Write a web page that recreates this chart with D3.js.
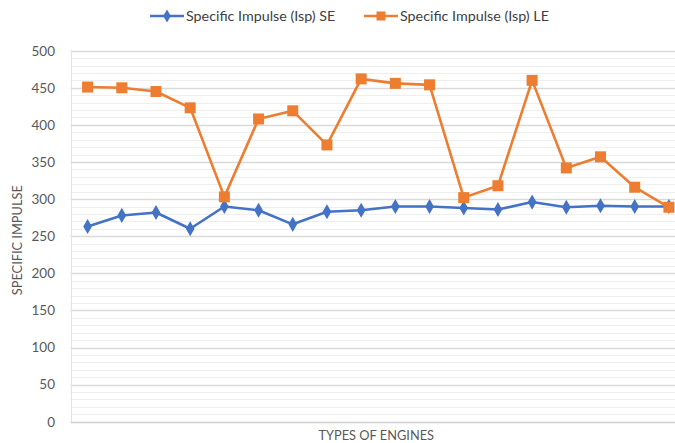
<!DOCTYPE html>
<html>
<head>
<meta charset="utf-8">
<script src="https://cdn.jsdelivr.net/npm/d3@7"></script>
<style>
  html, body { margin: 0; padding: 0; background: #fff; overflow: hidden; }
  svg { display: block; font-family: Lato, "Open Sans", sans-serif; }
</style>
</head>
<body>
<svg id="chart" width="675" height="443"></svg>
<script>
// Engine index (18 engine types, unlabeled on the axis)
const engines = d3.range(1, 19).map(String);

// Specific impulse, seconds
const ispSE = [263, 278, 282, 260, 290, 285, 266, 283, 285, 290, 290, 288, 286, 296, 289, 291, 290, 290];
const ispLE = [451, 450, 445, 423, 303, 408, 419, 373, 462, 456, 454, 302, 318, 460, 342, 357, 316, 289];

const yTicks = [0, 50, 100, 150, 200, 250, 300, 350, 400, 450, 500];
const yMinor = d3.range(0, 501, 10);

const seriesNames = ["Specific Impulse (Isp) SE", "Specific Impulse (Isp) LE"];
const colors = ["#4472C4", "#ED7D31"];

const svg = d3.select("#chart");
const margin = { left: 70.5, top: 50.7, right: 686, bottom: 421.7 };

const x = d3.scaleBand().domain(engines).range([margin.left, margin.right]);
const y = d3.scaleLinear().domain([0, 500]).range([margin.bottom, margin.top]);

// minor gridlines
svg.append("g").selectAll("line").data(yMinor.filter(v => v % 50 !== 0)).join("line")
  .attr("x1", margin.left).attr("x2", margin.right)
  .attr("y1", d => Math.round(y(d)) + 0.5).attr("y2", d => Math.round(y(d)) + 0.5)
  .attr("stroke", "#eeeeee").attr("stroke-width", 1);

// major gridlines
svg.append("g").selectAll("line").data(yTicks.filter(v => v > 0)).join("line")
  .attr("x1", margin.left).attr("x2", margin.right)
  .attr("y1", d => Math.round(y(d)) + 0.5).attr("y2", d => Math.round(y(d)) + 0.5)
  .attr("stroke", "#d9d9d9").attr("stroke-width", 1.3);

// plot frame: left edge and baseline
svg.append("line")
  .attr("x1", Math.round(margin.left) + 0.5).attr("x2", Math.round(margin.left) + 0.5)
  .attr("y1", margin.top).attr("y2", margin.bottom)
  .attr("stroke", "#e3e3e3");
svg.append("line")
  .attr("x1", margin.left).attr("x2", margin.right)
  .attr("y1", Math.round(y(0)) + 0.5).attr("y2", Math.round(y(0)) + 0.5)
  .attr("stroke", "#d0d0d0").attr("stroke-width", 1.5);

// y axis labels
const yAxis = d3.axisLeft(y).tickValues(yTicks).tickSize(0).tickPadding(0);
const gy = svg.append("g").attr("transform", `translate(55,0)`).call(yAxis);
gy.select(".domain").remove();
gy.selectAll("text").attr("fill", "#595959").attr("font-size", 13.5)
  .attr("font-family", "Lato, 'Open Sans', sans-serif");

// axis titles
svg.append("text")
  .attr("x", (margin.left + margin.right) / 2 - 2).attr("y", 440)
  .attr("text-anchor", "middle").attr("fill", "#595959").attr("font-size", 12.8)
  .text("TYPES OF ENGINES");
svg.append("text")
  .attr("transform", `translate(22,${(margin.top + margin.bottom) / 2 + 4}) rotate(-90)`)
  .attr("text-anchor", "middle").attr("fill", "#595959").attr("font-size", 12.8)
  .text("SPECIFIC IMPULSE");

const cx = (d, i) => x(engines[i]) + x.bandwidth() / 2;
const line = d3.line().x((d, i) => cx(d, i)).y(d => y(d));

// SE series: line with diamond markers
svg.append("path").datum(ispSE)
  .attr("d", line).attr("fill", "none")
  .attr("stroke", colors[0]).attr("stroke-width", 2.6).attr("stroke-linejoin", "round");
svg.append("g").selectAll("path").data(ispSE).join("path")
  .attr("d", d3.symbol(d3.symbolDiamond, 66))
  .attr("transform", (d, i) => `translate(${cx(d, i)},${y(d)})`)
  .attr("fill", colors[0]);

// LE series: line with square markers
svg.append("path").datum(ispLE)
  .attr("d", line).attr("fill", "none")
  .attr("stroke", colors[1]).attr("stroke-width", 2.6).attr("stroke-linejoin", "round");
svg.append("g").selectAll("rect").data(ispLE).join("rect")
  .attr("x", (d, i) => cx(d, i) - 5.5).attr("y", d => y(d) - 5.5)
  .attr("width", 11).attr("height", 11)
  .attr("fill", colors[1]);

// legend
const legendItems = [
  { name: seriesNames[0], color: colors[0], marker: "diamond", x0: 150 },
  { name: seriesNames[1], color: colors[1], marker: "square", x0: 364 }
];
const lg = svg.append("g").selectAll("g").data(legendItems).join("g")
  .attr("transform", d => `translate(${d.x0},16)`);
lg.append("line").attr("x1", 0).attr("x2", 34).attr("y1", 0).attr("y2", 0)
  .attr("stroke", d => d.color).attr("stroke-width", 2.6);
lg.filter(d => d.marker === "diamond").append("path")
  .attr("d", d3.symbol(d3.symbolDiamond, 50))
  .attr("transform", "translate(17,0)")
  .attr("fill", d => d.color);
lg.filter(d => d.marker === "square").append("rect")
  .attr("x", 12.5).attr("y", -4.5).attr("width", 9).attr("height", 9)
  .attr("fill", d => d.color);
lg.append("text").attr("x", 36).attr("y", 0).attr("dy", "0.35em")
  .attr("fill", "#404040").attr("font-size", 13)
  .attr("transform", "scale(1.1,1)")
  .attr("transform-origin", "36 0")
  .text(d => d.name);
</script>
</body>
</html>
